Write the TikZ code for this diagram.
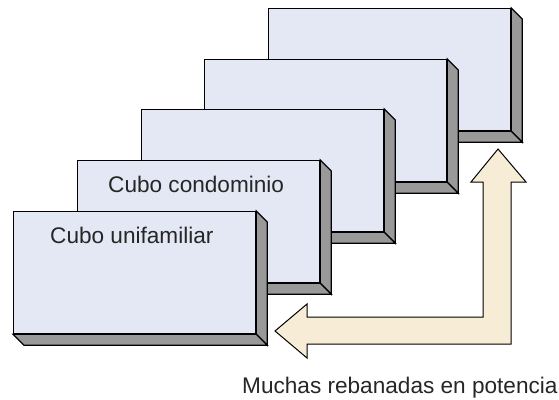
\documentclass[tikz,border=0pt]{standalone}
\usepackage{fontspec}
\setmainfont{Liberation Sans}
\definecolor{boxface}{HTML}{E4E8F4}
\definecolor{boxdepth}{HTML}{999999}
\definecolor{arrowfill}{HTML}{F7ECD6}
\tikzset{
  slab/.style={draw=black, line width=1.2pt, fill=boxface, minimum width=242pt, minimum height=122pt, inner sep=0pt, anchor=north west},
  depthface/.style={draw=black, line width=1.2pt, fill=boxdepth, line join=miter},
  lbl/.style={font=\fontsize{22.6}{26}\selectfont, anchor=base west, inner sep=0pt, text=black!85}
}
\newcommand{\slabdepth}[1]{%
  \draw[depthface] (#1.north east) -- ++(11pt,-11pt) -- ([shift={(11pt,-11pt)}]#1.south east) -- (#1.south east) -- cycle;
  \draw[depthface] (#1.south west) -- (#1.south east) -- ++(11pt,-11pt) -- ([shift={(11pt,-11pt)}]#1.south west) -- cycle;
}
\begin{document}
\begin{tikzpicture}[x=1pt,y=1pt]
\useasboundingbox (0,0) rectangle (559,-399);
\node[slab] (s5) at (268,-8) {};
\slabdepth{s5}
\node[slab] (s4) at (204,-59) {};
\slabdepth{s4}
\node[slab] (s3) at (141,-109) {};
\slabdepth{s3}
\node[slab] (s2) at (77,-160) {};
\slabdepth{s2}
\node[slab] (s1) at (13,-211) {};
\slabdepth{s1}
\node[lbl] (t2) at (108,-192) {Cubo condominio};
\node[lbl] (t1) at (50,-243) {Cubo unifamiliar};
\draw[draw=black, line width=1pt, fill=arrowfill, line join=miter]
  (498,-149) -- (526,-182) -- (511,-182) -- (511,-344) -- (307,-344) -- (307,-358)
  -- (275,-331) -- (307,-304) -- (307,-317) -- (483,-317) -- (483,-182) -- (471,-182) -- cycle;
\node[lbl] (t3) at (242,-393) {Muchas rebanadas en potencia};
\end{tikzpicture}
\end{document}
